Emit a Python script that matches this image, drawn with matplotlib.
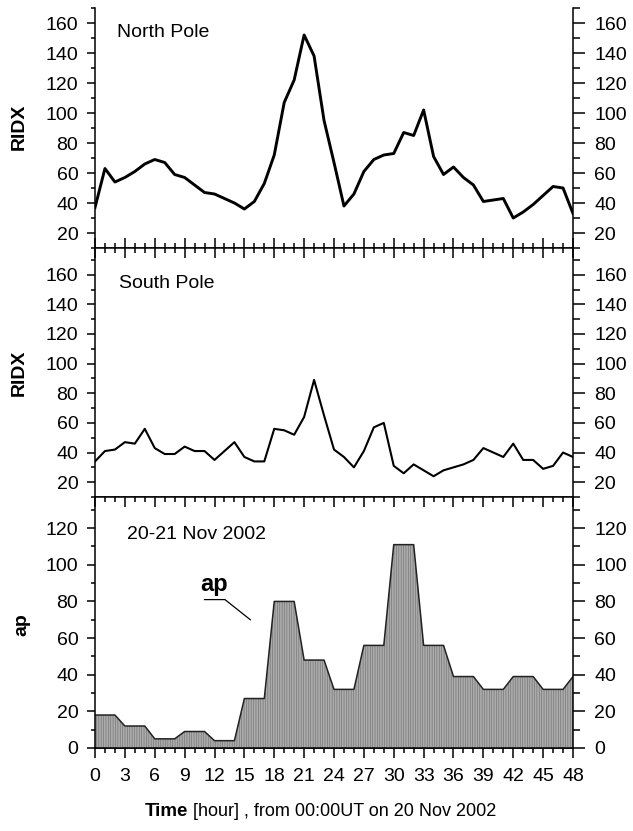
import matplotlib
matplotlib.use("Agg")
import matplotlib.pyplot as plt
from matplotlib.ticker import MultipleLocator

plt.rcParams['font.family'] = ['Liberation Sans', 'DejaVu Sans']
plt.rcParams['hatch.linewidth'] = 0.45

# hours 0..48
hours = list(range(49))

north = [37, 63, 54, 57, 61, 66, 69, 67, 59, 57, 52, 47, 46, 43, 40, 36, 41,
         53, 72, 107, 122, 152, 138, 95, 67, 38, 46, 61, 69, 72, 73, 87, 85,
         102, 71, 59, 64, 57, 52, 41, 42, 43, 30, 34, 39, 45, 51, 50, 33]

south = [34, 41, 42, 47, 46, 56, 43, 39, 39, 44, 41, 41, 35, 41, 47, 37, 34,
         34, 56, 55, 52, 64, 89, 65, 42, 37, 30, 41, 57, 60, 31, 26, 32, 28,
         24, 28, 30, 32, 35, 43, 40, 37, 46, 35, 35, 29, 31, 40, 37]

# 3-hourly ap index, last value is hour 48
ap_3h = [18, 12, 5, 9, 4, 27, 80, 48, 32, 56, 111, 56, 39, 32, 39, 32]
ap_last = 39
ap = [v for v in ap_3h for _ in range(3)] + [ap_last]

xticks = list(range(0, 49, 3))

W, H = 633, 831
fig = plt.figure(figsize=(W / 100, H / 100), dpi=100)


def box(top, bottom):
    return [95 / W, 1 - bottom / H, 478 / W, (bottom - top) / H]


ax1 = fig.add_axes(box(8, 248))
ax2 = fig.add_axes(box(248, 497))
ax3 = fig.add_axes(box(497, 748))

ax1.plot(hours, north, color='black', lw=2.1)
ax2.plot(hours, south, color='black', lw=1.5)
ax3.fill_between(hours, 0, ap, facecolor='#ababab', edgecolor='#727272',
                 hatch='|||||||', linewidth=0)
ax3.plot(hours, ap, color='#222222', lw=1.1)

ax1.set_ylim(10, 170)
ax2.set_ylim(10, 178)
ax3.set_ylim(0, 137)

twins = []
for ax, top in ((ax1, 160), (ax2, 160), (ax3, 120)):
    start = 0 if top == 120 else 20
    ax.set_xlim(0, 48)
    ax.xaxis.set_major_locator(MultipleLocator(3))
    ax.xaxis.set_minor_locator(MultipleLocator(1))
    ax.set_yticks(range(start, top + 1, 20))
    ax.yaxis.set_minor_locator(MultipleLocator(10))
    for s in ax.spines.values():
        s.set_linewidth(1.1)
    ax.tick_params(axis='y', which='major', direction='out', length=6, width=1.1,
                   labelsize=14, pad=6, left=True, right=False)
    ax.tick_params(axis='y', which='minor', direction='out', length=3, width=1.1,
                   left=True, right=False)
    tw = ax.twinx()
    tw.set_ylim(ax.get_ylim())
    tw.set_yticks(range(start, top + 1, 20))
    tw.yaxis.set_minor_locator(MultipleLocator(10))
    tw.tick_params(axis='y', which='major', direction='out', length=8.4, width=1.1,
                   labelsize=14, pad=7)
    tw.tick_params(axis='y', which='minor', direction='out', length=4.8, width=1.1)
    for s in tw.spines.values():
        s.set_visible(False)
    twins.append(tw)

# x ticks
ax1.spines['top'].set_visible(False)
ax1.tick_params(axis='x', which='both', direction='in', top=False, bottom=True,
                labelbottom=False, width=1.1)
ax2.tick_params(axis='x', which='both', direction='in', top=True, bottom=False,
                labelbottom=False, width=1.1)
ax3.tick_params(axis='x', which='both', direction='in', top=True, bottom=False,
                labelbottom=False, width=1.1)
for ax in (ax1, ax2, ax3):
    ax.tick_params(axis='x', which='major', length=7.2)
    ax.tick_params(axis='x', which='minor', length=3.6)

# bottom panel: outward ticks with labels
sec = ax3.secondary_xaxis('bottom')
sec.set_xticks(xticks)
sec.xaxis.set_minor_locator(MultipleLocator(1))
sec.tick_params(axis='x', which='major', direction='out', length=7.2, width=1.1,
                labelsize=14, pad=7)
sec.tick_params(axis='x', which='minor', direction='out', length=3.6, width=1.1)
sec.spines['bottom'].set_linewidth(1.1)

# panel titles
ax1.text(0.046, 0.935, 'North Pole', transform=ax1.transAxes, fontsize=14,
         va='top', ha='left')
ax2.text(0.05, 0.89, 'South Pole', transform=ax2.transAxes, fontsize=14,
         va='top', ha='left')
ax3.text(0.067, 0.885, '20-21 Nov 2002', transform=ax3.transAxes, fontsize=14,
         va='top', ha='left')

# ap label with leader line
ax3.text(12.0, 83, 'ap', fontsize=17, fontweight='bold', ha='center', va='bottom')
ax3.plot([11.0, 13.05, 15.6], [81, 81, 70], color='black', lw=0.9)

# y labels
fig.text(19 / W, 1 - 127 / H, 'RIDX', rotation=90, fontsize=14,
         fontweight='bold', ha='center', va='center')
fig.text(19 / W, 1 - 373 / H, 'RIDX', rotation=90, fontsize=14,
         fontweight='bold', ha='center', va='center')
fig.text(22 / W, 1 - 625 / H, 'ap', rotation=90, fontsize=14,
         fontweight='bold', ha='center', va='center')

# x label
fig.text(188 / W, 1 - 816 / H, 'Time', fontsize=13.5, fontweight='bold',
         ha='right', va='baseline')
fig.text(193 / W, 1 - 816 / H, '[hour] , from 00:00UT on 20 Nov 2002',
         fontsize=13, ha='left', va='baseline')

plt.savefig('out.png', dpi=100)
